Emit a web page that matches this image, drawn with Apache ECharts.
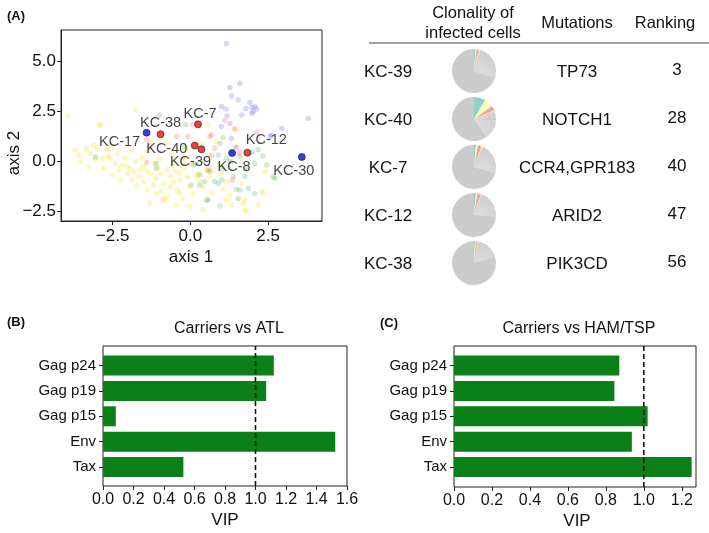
<!DOCTYPE html>
<html><head><meta charset="utf-8">
<script src="https://cdn.jsdelivr.net/npm/echarts@6/dist/echarts.min.js"></script>
<style>html,body{margin:0;padding:0;background:#fff}#c{width:709px;height:533px}</style>
</head><body><div id="c"></div><script>
// ---------- DATA ----------
// Panel A scatter (background cohort points, by group)
const yellowPts = [[-3.92,2.25],[-2.89,1.83],[-1.76,2.55],[-2.93,1.80],[-3.59,0.30],[-3.35,0.58],[-3.22,0.38],[-3.00,0.63],[-2.68,0.55],[-2.84,0.13],[-2.57,0.13],[-2.41,-0.12],[-2.79,-0.37],[-2.30,-0.45],[-2.03,-0.28],[-2.03,-0.62],[-1.82,-0.53],[-1.60,-0.45],[-1.66,-0.78],[-1.87,-0.95],[-1.50,-1.03],[-1.28,-0.62],[-1.12,-0.87],[-0.96,-0.62],[-0.85,-1.12],[-0.64,-1.28],[-1.39,-1.45],[-0.96,-1.53],[-0.74,-1.78],[-0.42,-1.45],[-0.85,-1.95],[-0.26,-1.87],[-0.64,-0.78],[-0.47,-0.53],[-0.31,-0.95],[-0.21,-0.37],[-1.50,-0.28],[-1.17,-0.12],[-1.76,-0.03],[-3.27,-0.28],[-3.54,-0.03],[-1.34,0.47],[-2.57,0.80],[-2.35,0.38],[-2.09,0.13],[-3.11,0.80],[0.19,-0.78],[0.73,-0.45],[1.16,-1.95],[1.70,-2.12],[2.34,-1.62],[1.43,0.72],[0.57,1.80],[-0.35,-1.62],[-0.88,-1.87],[-1.31,-2.12],[-0.02,-2.28],[0.41,-2.45],[1.75,-2.45],[0.03,-0.12],[0.25,-0.62],[0.62,-0.78],[1.00,-0.62],[0.08,-1.62],[0.41,-1.28],[1.05,-1.45],[1.27,-1.70],[1.75,-1.95],[2.29,-1.53],[1.32,-2.20],[1.80,-2.53],[2.18,-2.20],[1.43,1.55],[0.84,0.97],[0.35,0.88],[0.52,-0.45],[1.16,-1.03],[1.65,-1.12],[2.40,-0.53],[-2.20,-0.20],[-1.95,-0.40],[-1.40,-0.50],[-1.05,-0.35],[-0.75,-0.45],[-0.55,-0.20],[-0.35,-0.60],[-0.10,-0.80],[-0.55,-1.05],[-1.20,-1.20],[-1.70,-1.25],[-2.50,-0.70],[-2.65,0.25],[-3.05,0.10],[-1.00,0.10],[-0.60,0.35],[-0.20,0.10],[-0.80,0.90],[-1.90,0.55],[-0.05,-1.30],[0.30,-1.00],[-1.55,0.15],[-2.25,-0.95],[-1.10,-1.65],[-0.45,-2.20],[0.70,-1.60],[0.95,-0.20],[-3.70,0.55],[-1.30,0.95],[-0.15,0.55],[0.60,0.30]];
const greenPts = [[1.05,1.18],[0.95,0.88],[2.18,0.58],[1.59,0.22],[2.34,0.25],[1.16,0.13],[0.89,0.30],[0.41,-0.03],[1.27,-0.03],[2.07,-0.12],[2.45,-0.20],[2.66,-0.78],[1.05,-0.37],[0.62,-0.53],[0.30,-0.70],[0.78,-1.03],[0.89,-1.12],[0.46,-1.03],[1.38,-0.78],[1.75,-0.78],[1.86,-1.37],[2.07,-1.62],[1.48,-1.42],[0.52,-1.95],[0.95,-2.25],[1.54,-1.87],[0.03,-1.20],[1.80,-0.45],[0.19,-0.12],[-0.15,1.82],[-1.00,2.30],[-0.18,0.72],[0.10,-0.20],[0.30,-1.20],[0.57,-1.95],[1.00,-0.95],[1.59,-1.45],[2.72,-0.87],[-3.05,0.20],[-1.10,-0.12],[-1.10,-0.37]];
const redPts = [[1.10,2.02],[0.08,1.83],[1.43,1.63],[2.12,1.42],[0.62,1.22],[0.78,0.63],[1.57,0.42],[0.68,0.25],[1.35,-0.95],[0.57,-0.45],[-0.08,1.22],[-0.44,1.22],[0.68,1.30],[-1.31,0.72],[-1.40,-0.08],[-1.41,1.05]];
const bluePts = [[1.16,5.88],[1.59,3.88],[1.27,3.68],[1.32,3.25],[1.54,3.05],[1.91,2.92],[1.78,2.63],[1.97,2.68],[2.13,2.60],[2.02,2.47],[1.65,2.30],[1.00,2.72],[1.14,2.60],[1.18,2.25],[1.00,1.72],[3.79,2.13],[2.94,1.63],[2.61,1.30],[1.32,1.13],[1.97,0.42],[1.48,0.68],[1.27,1.88],[2.56,1.22],[2.07,2.72],[1.97,2.38]];
// Highlighted patients
const hlNames = ['KC-17','KC-38','KC-7','KC-40','KC-39','KC-8','KC-12','KC-30'];
const hlX     = [-1.41, -0.96, 0.245, 0.14, 0.355, 1.34, 1.83, 3.58];
const hlY     = [1.415, 1.335, 1.835, 0.77, 0.585, 0.40, 0.415, 0.20];
const hlGroup = ['blue','red','red','red','red','blue','red','blue'];
const xTicksA = [-2.5, 0, 2.5];
const yTicksA = [-2.5, 0, 2.5, 5];

// Table
const tblPatients  = ['KC-39','KC-40','KC-7','KC-12','KC-38'];
const tblMutations = ['TP73','NOTCH1','CCR4,GPR183','ARID2','PIK3CD'];
const tblRanking   = ['3','28','40','47','56'];
// clone sizes (%) per patient: colored top clones, then grey clones, then remainder
const cloneTop = [
  [1.2,0.8,0.7,0.6,0.6,0.5],
  [8.5,6.5,1.5,1.2,1.0,0.9],
  [1.5,1.2,1.0,1.0,0.9,0.8],
  [1.4,1.0,1.0,0.9,0.8,0.7],
  [0.8,0.6,0.6,0.5,0.5,0.4]
];
const cloneGrey = [
  [1.2,1.1,1.1,1.0,1.0,1.0,0.9,0.9,0.9,0.9,0.8,0.8,0.8,0.8,0.8,0.7,0.7,0.7,0.7,0.7,0.7,0.6,0.6,0.6,0.6,0.6,0.6,0.5,0.5,0.5,0.5,0.5,0.5,0.5,0.5],
  [1.2,1.1,1.1,1.0,1.0,1.0,0.9,0.9,0.9,0.8,0.8,0.8,0.8,0.7,0.7,0.7,0.7,0.6,0.6,0.6,0.6,0.6,0.5,0.5,0.5,0.5,0.5],
  [1.3,1.2,1.1,1.0,1.0,0.9,0.9,0.9,0.8,0.8,0.8,0.8,0.7,0.7,0.7,0.7,0.7,0.6,0.6,0.6,0.6,0.6,0.6,0.5,0.5,0.5,0.5,0.5,0.5,0.5,0.5],
  [1.2,1.1,1.0,1.0,0.9,0.9,0.9,0.8,0.8,0.8,0.8,0.7,0.7,0.7,0.7,0.7,0.6,0.6,0.6,0.6,0.6,0.5,0.5,0.5,0.5,0.5,0.5,0.5],
  [1.0,1.0,0.9,0.9,0.9,0.8,0.8,0.8,0.7,0.7,0.7,0.7,0.6,0.6,0.6,0.6,0.6,0.5,0.5,0.5,0.5,0.5,0.5,0.5,0.5]
];
const cloneRest = [70.1, 59.8, 69.9, 73.5, 79.5];
const cloneColors = ['#8dd3c7','#ffffb3','#bebada','#fb8072','#fdb462','#fccde5'];

// Panels B and C
const vipCats = ['Gag p24','Gag p19','Gag p15','Env','Tax'];
const vipATL  = [1.12, 1.07, 0.084, 1.523, 0.527];
const vipHAM  = [0.871, 0.845, 1.02, 0.937, 1.252];
const vipThreshold = 1.0;
const xTicksC = [0,0.2,0.4,0.6,0.8,1.0,1.2];

// ---------- CHART ----------
const FONT = '"Liberation Sans", Arial, Helvetica, sans-serif';
const TXT = '#111';
const chart = echarts.init(document.getElementById('c'), null, {renderer:'canvas'});
const fmt1 = v => (v < 0 ? '\u2212' : '') + Math.abs(v).toFixed(1);

const hlLabelOffset = {
  'KC-17':[-27,9], 'KC-38':[0,-11], 'KC-7':[2,-10], 'KC-40':[-28,3],
  'KC-39':[-11,13], 'KC-8':[2,14], 'KC-12':[19,-13], 'KC-30':[-8,14]
};
const hlColor = {red:'#e8110f', blue:'#0a0ae0'};

function bgSeries(pts, color){
  return {type:'scatter', xAxisIndex:0, yAxisIndex:0, data:pts, symbolSize:5.5,
    itemStyle:{color:color}, silent:true, z:2};
}

const series = [
  bgSeries(yellowPts,'rgba(255,215,0,0.30)'),
  bgSeries(greenPts,'rgba(0,128,0,0.22)'),
  bgSeries(redPts,'rgba(255,0,0,0.20)'),
  bgSeries(bluePts,'rgba(0,0,255,0.20)'),
  {type:'scatter', xAxisIndex:0, yAxisIndex:0, z:5, symbolSize:7,
   data: hlNames.map((n,i)=>({name:n, value:[hlX[i],hlY[i]],
     itemStyle:{color:hlColor[hlGroup[i]], borderColor:'#222', borderWidth:0.8},
     label:{show:true, position:'inside', offset:hlLabelOffset[n], formatter:'{b}',
       fontSize:14.5, fontFamily:FONT, color:TXT}}))
  }
];

// Bars
const bars = [
  {vals:vipATL, frameGrid:1, barGrid:2},
  {vals:vipHAM, frameGrid:3, barGrid:4}
];
bars.forEach((b,k)=>{
  series.push({type:'bar', xAxisIndex:b.barGrid, yAxisIndex:b.barGrid, data:b.vals,
    barWidth:20, itemStyle:{color:'#0b7f18'}, silent:true});
  series.push({type:'line', xAxisIndex:b.frameGrid, yAxisIndex:b.frameGrid,
    data:[[vipThreshold,0],[vipThreshold,1]], symbol:'none', silent:true, z:6,
    lineStyle:{color:'#111', width:1.6, type:[5,3]}});
});

// Pies
const rowY0 = 71, rowDY = 48, pieX = 474;
tblPatients.forEach((p,i)=>{
  const d = [];
  cloneTop[i].forEach((v,j)=>d.push({value:v, itemStyle:{color:cloneColors[j]}}));
  cloneGrey[i].forEach((v,j)=>d.push({value:v, itemStyle:{color: j%2 ? '#c4c4c4' : '#d0d0d0'}}));
  d.push({value:cloneRest[i], itemStyle:{color:'#cbcbcb'}});
  series.push({type:'pie', center:[pieX, rowY0 + i*rowDY], radius:22, startAngle:90,
    clockwise:true, silent:true, label:{show:false}, labelLine:{show:false},
    itemStyle:{borderWidth:0}, data:d});
});

const axisLineStyle = {color:'#222', width:1};
const grids = [
  {left:61, top:30, width:261, height:191, show:true, borderColor:'#222', borderWidth:1},
  {left:103, top:346, width:244, height:140, show:true, borderColor:'#222', borderWidth:1},
  {left:103, top:352.8, width:244, height:127},
  {left:454, top:346, width:242, height:141, show:true, borderColor:'#222', borderWidth:1},
  {left:454, top:352.8, width:242, height:127}
];
const B_MAX = 1.6, C_MAX = 1.275;
const xAxes = [
  {gridIndex:0, type:'value', min:-4.16, max:4.23,
   axisLine:{show:true, onZero:false, lineStyle:axisLineStyle}, splitLine:{show:false},
   axisTick:{show:true, length:4, customValues:xTicksA, lineStyle:axisLineStyle},
   axisLabel:{customValues:xTicksA, formatter:fmt1, fontSize:17, fontFamily:FONT, color:TXT, margin:7}},
  {gridIndex:1, type:'value', min:0, max:B_MAX, show:false},
  {gridIndex:2, type:'value', min:0, max:B_MAX, interval:0.2, offset:6.2,
   axisLine:{show:false, onZero:false}, splitLine:{show:false},
   axisTick:{show:true, length:4, lineStyle:axisLineStyle},
   axisLabel:{formatter:fmt1, fontSize:16, fontFamily:FONT, color:TXT, margin:6}},
  {gridIndex:3, type:'value', min:0, max:C_MAX, show:false},
  {gridIndex:4, type:'value', min:0, max:C_MAX, offset:7.2,
   axisLine:{show:false, onZero:false}, splitLine:{show:false},
   axisTick:{show:true, length:4, customValues:xTicksC, lineStyle:axisLineStyle},
   axisLabel:{customValues:xTicksC, formatter:fmt1, fontSize:16, fontFamily:FONT, color:TXT, margin:6}}
];
const catAxis = gi => ({gridIndex:gi, type:'category', data:vipCats, inverse:true,
   axisLine:{show:false, onZero:false}, splitLine:{show:false},
   axisTick:{show:true, alignWithLabel:true, length:4, lineStyle:axisLineStyle},
   axisLabel:{fontSize:15, fontFamily:FONT, color:TXT, margin:7}});
const yAxes = [
  {gridIndex:0, type:'value', min:-3.0, max:6.55,
   axisLine:{show:true, onZero:false, lineStyle:axisLineStyle}, splitLine:{show:false},
   axisTick:{show:true, length:4, customValues:yTicksA, lineStyle:axisLineStyle},
   axisLabel:{customValues:yTicksA, formatter:fmt1, fontSize:17, fontFamily:FONT, color:TXT, margin:5}},
  {gridIndex:1, type:'value', min:0, max:1, show:false},
  catAxis(2),
  {gridIndex:3, type:'value', min:0, max:1, show:false},
  catAxis(4)
];

function txt(x,y,s,size,bold){
  return {type:'text', x:x, y:y, silent:true,
    style:{text:s, fontSize:size, fontWeight:bold?'bold':'normal', fontFamily:FONT, fill:TXT, align:'center', verticalAlign:'middle'}};
}
const graphics = [
  txt(16,16,'(A)',13,true),
  txt(191,257,'axis 1',17),
  {type:'text', x:14, y:153, rotation:Math.PI/2, silent:true,
   style:{text:'axis 2', fontSize:17, fontFamily:FONT, fill:TXT, align:'center', verticalAlign:'middle'}},
  txt(473,13,'Clonality of',16.5),
  txt(473,33,'infected cells',16.5),
  txt(577,23,'Mutations',16.5),
  txt(665,23,'Ranking',16.5),
  {type:'line', silent:true, shape:{x1:369, y1:43, x2:709, y2:43}, style:{stroke:'#444', lineWidth:1}},
  txt(16,322,'(B)',13,true),
  txt(229,329,'Carriers vs ATL',16),
  txt(225,520,'VIP',17),
  txt(389,323,'(C)',13,true),
  txt(579,329,'Carriers vs HAM/TSP',16),
  txt(577,521,'VIP',17)
];
tblPatients.forEach((p,i)=>{
  const y = rowY0 + i*rowDY + 1;
  graphics.push(txt(388,y,p,17));
  graphics.push(txt(577,y,tblMutations[i],17));
  graphics.push(txt(677,y-2,tblRanking[i],17));
});

chart.setOption({
  animation:false,
  backgroundColor:'#fff',
  grid:grids, xAxis:xAxes, yAxis:yAxes, series:series, graphic:graphics
});
</script></body></html>
